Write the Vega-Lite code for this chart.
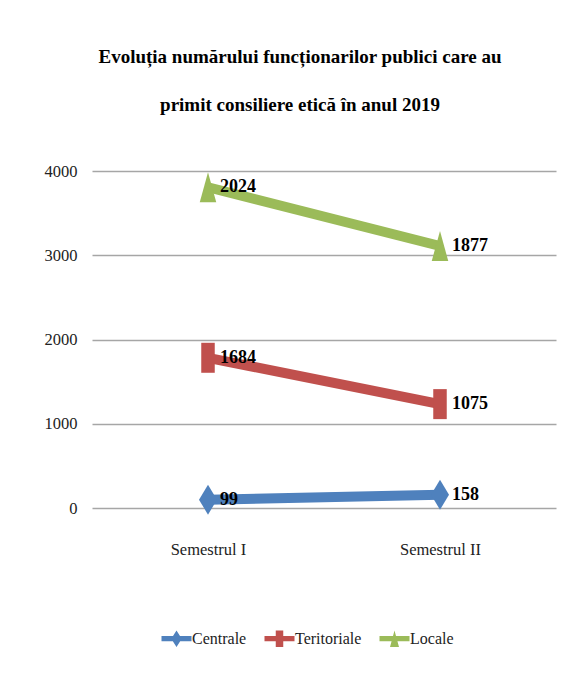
{
  "$schema": "https://vega.github.io/schema/vega-lite/v6.json",
  "width": 464,
  "height": 337,
  "autosize": "none",
  "padding": {"left": 92, "top": 171, "right": 12, "bottom": 169},
  "background": "white",
  "title": {
    "text": ["Evoluția numărului funcționarilor publici care au", "primit consiliere etică în anul 2019"],
    "font": "Liberation Serif",
    "fontSize": 19,
    "fontWeight": "bold",
    "color": "black",
    "lineHeight": 48,
    "anchor": "middle",
    "frame": "group",
    "baseline": "bottom",
    "offset": 29,
    "dx": -24
  },
  "data": {
    "values": [
      {"semestru": "Semestrul I", "series": "Centrale", "ord": 1, "value": 99},
      {"semestru": "Semestrul  II", "series": "Centrale", "ord": 1, "value": 158},
      {"semestru": "Semestrul I", "series": "Teritoriale", "ord": 2, "value": 1684},
      {"semestru": "Semestrul  II", "series": "Teritoriale", "ord": 2, "value": 1075},
      {"semestru": "Semestrul I", "series": "Locale", "ord": 3, "value": 2024},
      {"semestru": "Semestrul  II", "series": "Locale", "ord": 3, "value": 1877}
    ]
  },
  "transform": [
    {"stack": "value", "groupby": ["semestru"], "sort": [{"field": "ord", "order": "ascending"}], "as": ["y0", "y1"]}
  ],
  "encoding": {
    "x": {
      "field": "semestru",
      "type": "nominal",
      "sort": ["Semestrul I", "Semestrul  II"],
      "scale": {"type": "point", "padding": 0.5},
      "axis": {
        "title": null,
        "labelAngle": 0,
        "domain": false,
        "ticks": false,
        "grid": false,
        "labelPadding": 33,
        "labelFont": "Liberation Serif",
        "labelFontSize": 16.5,
        "labelColor": "#222222"
      }
    },
    "y": {
      "field": "y1",
      "type": "quantitative",
      "scale": {"domain": [0, 4000], "nice": false},
      "axis": {
        "title": null,
        "values": [0, 1000, 2000, 3000, 4000],
        "format": "d",
        "domain": false,
        "ticks": false,
        "grid": true,
        "gridColor": "#A6A6A6",
        "gridWidth": 1.5,
        "labelPadding": 15,
        "labelFont": "Liberation Serif",
        "labelFontSize": 16.5,
        "labelColor": "#222222"
      }
    }
  },
  "layer": [
    {
      "mark": {"type": "line", "strokeWidth": 10},
      "encoding": {
        "color": {
          "field": "series",
          "type": "nominal",
          "scale": {"domain": ["Centrale", "Teritoriale", "Locale"], "range": ["#4F81BD", "#C0504D", "#9BBB59"]},
          "legend": null
        }
      }
    },
    {
      "mark": {"type": "point", "filled": true, "opacity": 1, "size": 900},
      "encoding": {
        "color": {
          "field": "series",
          "type": "nominal",
          "scale": {"domain": ["Centrale", "Teritoriale", "Locale"], "range": ["#4F81BD", "#C0504D", "#9BBB59"]},
          "legend": null
        },
        "shape": {
          "field": "series",
          "type": "nominal",
          "scale": {
            "domain": ["Centrale", "Teritoriale", "Locale"],
            "range": [
              "M0,-1L0.6,0L0,1L-0.6,0Z",
              "M-0.45,-1H0.45V1H-0.45Z",
              "M0,-1L0.55,1L-0.55,1Z"
            ]
          },
          "legend": null
        }
      }
    },
    {
      "mark": {
        "type": "text",
        "align": "left",
        "baseline": "middle",
        "dx": 12,
        "font": "Liberation Serif",
        "fontWeight": "bold",
        "fontSize": 18,
        "color": "black"
      },
      "encoding": {"text": {"field": "value", "type": "quantitative"}}
    },
    {
      "mark": {"type": "point", "filled": true, "opacity": 0, "size": 225},
      "encoding": {
        "color": {
          "field": "series",
          "type": "nominal",
          "scale": {"domain": ["Centrale", "Teritoriale", "Locale"], "range": ["#4F81BD", "#C0504D", "#9BBB59"]},
          "legend": {
            "title": null,
            "orient": "none",
            "direction": "horizontal",
            "legendX": 76,
            "legendY": 459,
            "padding": 0,
            "symbolOpacity": 1,
            "symbolSize": 225,
            "labelOffset": 7,
            "columnPadding": 14,
            "labelFont": "Liberation Serif",
            "labelFontSize": 16,
            "labelColor": "#222222"
          }
        },
        "shape": {
          "field": "series",
          "type": "nominal",
          "scale": {
            "domain": ["Centrale", "Teritoriale", "Locale"],
            "range": [
              "M-2,-0.35H2V0.35H-2Z M0,-1.1L0.7,0L0,1.1L-0.7,0Z",
              "M-2,-0.35H2V0.35H-2Z M-0.5,-1.1H0.5V1.1H-0.5Z",
              "M-2,-0.35H2V0.35H-2Z M0,-1.1L0.6,1.1L-0.6,1.1Z"
            ]
          },
          "legend": {
            "title": null,
            "orient": "none",
            "direction": "horizontal",
            "legendX": 76,
            "legendY": 459,
            "padding": 0,
            "symbolOpacity": 1,
            "symbolSize": 225,
            "labelOffset": 7,
            "columnPadding": 14,
            "labelFont": "Liberation Serif",
            "labelFontSize": 16,
            "labelColor": "#222222"
          }
        }
      }
    }
  ],
  "resolve": {"scale": {"color": "independent", "shape": "independent"}},
  "config": {"view": {"stroke": null}}
}
